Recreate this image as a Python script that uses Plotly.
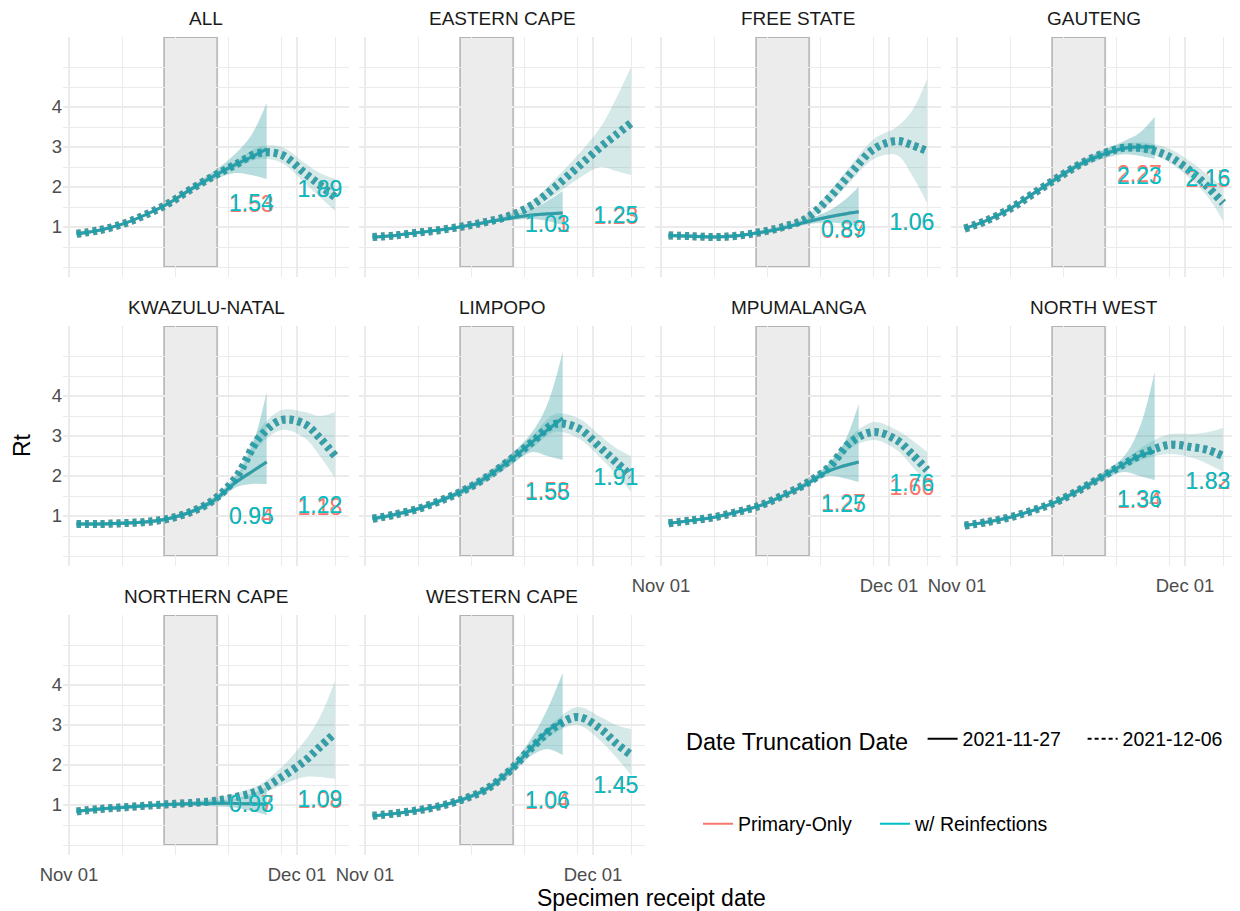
import plotly.graph_objects as go

# ---- data -------------------------------------------------------------
panels = ["ALL", "EASTERN CAPE", "FREE STATE", "GAUTENG",
          "KWAZULU-NATAL", "LIMPOPO", "MPUMALANGA", "NORTH WEST",
          "NORTHERN CAPE", "WESTERN CAPE"]

solid_dates = ["2021-11-02", "2021-11-05", "2021-11-08", "2021-11-11", "2021-11-14",
               "2021-11-17", "2021-11-20", "2021-11-23", "2021-11-25", "2021-11-27"]
dashed_dates = ["2021-11-02", "2021-11-05", "2021-11-08", "2021-11-11", "2021-11-14",
                "2021-11-17", "2021-11-20", "2021-11-23", "2021-11-26", "2021-11-29",
                "2021-12-02", "2021-12-04", "2021-12-06"]

# truncated at 2021-11-27 (solid): median / low / high of the sampled Rt paths
solid_med = [
    [0.83, 0.92, 1.07, 1.30, 1.58, 1.94, 2.27, 2.57, 2.75, 2.95],  # ALL
    [0.75, 0.79, 0.86, 0.93, 1.02, 1.12, 1.22, 1.30, 1.33, 1.35],  # EASTERN CAPE
    [0.79, 0.77, 0.75, 0.78, 0.86, 0.97, 1.12, 1.25, 1.32, 1.38],  # FREE STATE
    [0.96, 1.17, 1.46, 1.83, 2.20, 2.55, 2.80, 2.97, 3.00, 3.00],  # GAUTENG
    [0.80, 0.80, 0.82, 0.85, 0.93, 1.10, 1.38, 1.85, 2.10, 2.35],  # KWAZULU-NATAL
    [0.93, 1.04, 1.18, 1.39, 1.64, 1.97, 2.38, 2.85, 3.15, 3.45],  # LIMPOPO
    [0.82, 0.89, 0.97, 1.10, 1.26, 1.50, 1.78, 2.12, 2.25, 2.35],  # MPUMALANGA
    [0.76, 0.85, 0.97, 1.14, 1.35, 1.64, 1.97, 2.30, 2.50, 2.62],  # NORTH WEST
    [0.84, 0.90, 0.94, 0.98, 1.01, 1.03, 1.04, 1.04, 1.03, 1.02],  # NORTHERN CAPE
    [0.73, 0.79, 0.87, 0.98, 1.15, 1.40, 1.85, 2.45, 2.85, 3.10],  # WESTERN CAPE
]
solid_lo = [
    [0.80, 0.89, 1.04, 1.27, 1.54, 1.88, 2.18, 2.35, 2.30, 2.20],
    [0.72, 0.76, 0.83, 0.90, 0.99, 1.09, 1.17, 1.20, 1.15, 1.05],
    [0.75, 0.73, 0.71, 0.74, 0.82, 0.93, 1.06, 1.12, 1.08, 1.02],
    [0.93, 1.14, 1.42, 1.78, 2.14, 2.48, 2.70, 2.82, 2.78, 2.70],
    [0.76, 0.76, 0.78, 0.81, 0.89, 1.05, 1.30, 1.72, 1.80, 1.80],
    [0.88, 0.99, 1.13, 1.33, 1.57, 1.88, 2.25, 2.60, 2.50, 2.40],
    [0.79, 0.86, 0.94, 1.06, 1.22, 1.45, 1.72, 2.00, 1.95, 1.85],
    [0.73, 0.82, 0.94, 1.10, 1.30, 1.58, 1.88, 2.10, 2.00, 1.90],
    [0.80, 0.86, 0.90, 0.94, 0.97, 0.98, 0.97, 0.93, 0.85, 0.75],
    [0.70, 0.76, 0.84, 0.94, 1.10, 1.33, 1.74, 2.25, 2.40, 2.25],
]
solid_hi = [
    [0.86, 0.95, 1.10, 1.33, 1.62, 2.00, 2.38, 2.85, 3.30, 4.10],
    [0.78, 0.82, 0.89, 0.96, 1.05, 1.15, 1.28, 1.45, 1.65, 1.90],
    [0.83, 0.81, 0.79, 0.82, 0.90, 1.01, 1.18, 1.40, 1.65, 2.00],
    [0.99, 1.20, 1.50, 1.88, 2.26, 2.62, 2.90, 3.15, 3.35, 3.75],
    [0.84, 0.84, 0.86, 0.89, 0.97, 1.15, 1.46, 2.00, 2.70, 4.10],
    [0.98, 1.09, 1.23, 1.45, 1.71, 2.06, 2.50, 3.10, 3.80, 5.10],
    [0.85, 0.92, 1.00, 1.14, 1.30, 1.55, 1.84, 2.30, 2.80, 3.80],
    [0.79, 0.88, 1.00, 1.18, 1.40, 1.70, 2.06, 2.50, 3.20, 4.60],
    [0.88, 0.94, 0.98, 1.02, 1.05, 1.08, 1.11, 1.17, 1.28, 1.45],
    [0.76, 0.82, 0.90, 1.02, 1.20, 1.47, 1.96, 2.70, 3.40, 4.30],
]

# truncated at 2021-12-06 (dashed)
dashed_med = [
    [0.83, 0.92, 1.07, 1.30, 1.58, 1.94, 2.27, 2.57, 2.85, 2.80, 2.35, 2.05, 1.75],
    [0.75, 0.79, 0.86, 0.93, 1.02, 1.13, 1.28, 1.55, 2.00, 2.50, 3.00, 3.30, 3.60],
    [0.79, 0.77, 0.75, 0.78, 0.87, 1.00, 1.20, 1.70, 2.35, 2.95, 3.15, 3.05, 2.90],
    [0.96, 1.17, 1.46, 1.83, 2.20, 2.55, 2.82, 2.98, 2.95, 2.75, 2.35, 2.00, 1.60],
    [0.80, 0.80, 0.82, 0.85, 0.93, 1.10, 1.40, 1.97, 2.95, 3.40, 3.30, 2.95, 2.50],
    [0.93, 1.04, 1.18, 1.39, 1.64, 1.97, 2.39, 2.85, 3.30, 3.20, 2.70, 2.35, 2.00],
    [0.82, 0.89, 0.97, 1.10, 1.26, 1.51, 1.80, 2.20, 2.85, 3.10, 2.90, 2.55, 2.15],
    [0.76, 0.85, 0.97, 1.14, 1.35, 1.64, 1.97, 2.30, 2.60, 2.78, 2.72, 2.65, 2.50],
    [0.84, 0.90, 0.94, 0.98, 1.02, 1.05, 1.10, 1.20, 1.36, 1.70, 2.10, 2.45, 2.80],
    [0.73, 0.79, 0.87, 0.98, 1.15, 1.40, 1.85, 2.45, 2.95, 3.20, 2.90, 2.55, 2.25],
]
dashed_lo = [
    [0.80, 0.89, 1.04, 1.27, 1.54, 1.90, 2.22, 2.50, 2.70, 2.60, 2.10, 1.75, 1.40],
    [0.72, 0.76, 0.83, 0.90, 0.99, 1.09, 1.22, 1.45, 1.80, 2.20, 2.50, 2.40, 2.30],
    [0.75, 0.73, 0.71, 0.74, 0.83, 0.95, 1.13, 1.55, 2.15, 2.70, 2.80, 2.30, 1.60],
    [0.93, 1.14, 1.42, 1.78, 2.14, 2.48, 2.75, 2.90, 2.85, 2.60, 2.15, 1.75, 1.15],
    [0.76, 0.76, 0.78, 0.81, 0.89, 1.05, 1.34, 1.88, 2.75, 3.15, 2.95, 2.50, 1.95],
    [0.88, 0.99, 1.13, 1.33, 1.57, 1.88, 2.28, 2.70, 3.10, 2.95, 2.45, 2.05, 1.60],
    [0.79, 0.86, 0.94, 1.06, 1.22, 1.46, 1.74, 2.12, 2.70, 2.90, 2.65, 2.25, 1.80],
    [0.73, 0.82, 0.94, 1.10, 1.30, 1.58, 1.90, 2.20, 2.45, 2.55, 2.45, 2.30, 2.10],
    [0.80, 0.86, 0.90, 0.94, 0.98, 1.01, 1.05, 1.12, 1.25, 1.50, 1.70, 1.70, 1.65],
    [0.70, 0.76, 0.84, 0.94, 1.10, 1.35, 1.78, 2.35, 2.80, 3.00, 2.60, 2.20, 1.75],
]
dashed_hi = [
    [0.86, 0.95, 1.10, 1.33, 1.62, 1.98, 2.32, 2.65, 3.00, 3.00, 2.60, 2.35, 2.20],
    [0.78, 0.82, 0.89, 0.96, 1.05, 1.17, 1.34, 1.65, 2.20, 2.80, 3.50, 4.20, 5.00],
    [0.83, 0.81, 0.79, 0.82, 0.91, 1.05, 1.27, 1.85, 2.55, 3.20, 3.50, 3.90, 4.70],
    [0.99, 1.20, 1.50, 1.88, 2.26, 2.62, 2.90, 3.08, 3.10, 2.95, 2.60, 2.30, 2.00],
    [0.84, 0.84, 0.86, 0.89, 0.97, 1.15, 1.46, 2.06, 3.15, 3.65, 3.60, 3.50, 3.60],
    [0.98, 1.09, 1.23, 1.45, 1.71, 2.06, 2.50, 3.00, 3.55, 3.45, 3.00, 2.70, 2.50],
    [0.85, 0.92, 1.00, 1.14, 1.30, 1.56, 1.86, 2.28, 3.00, 3.35, 3.15, 2.90, 2.60],
    [0.79, 0.88, 1.00, 1.18, 1.40, 1.70, 2.04, 2.40, 2.80, 3.05, 3.05, 3.10, 3.20],
    [0.88, 0.94, 0.98, 1.02, 1.06, 1.09, 1.16, 1.30, 1.50, 1.95, 2.60, 3.20, 4.10],
    [0.76, 0.82, 0.90, 1.02, 1.20, 1.45, 1.92, 2.55, 3.10, 3.45, 3.20, 3.00, 2.90],
]

# value labels (first: truncation 2021-11-27, second: 2021-12-06)
label_dates = ["2021-11-25", "2021-12-04"]
label_primary = [[1.53, 1.89], [1.01, 1.23], [0.87, 1.06], [2.27, 2.15], [0.94, 1.18],
                 [1.58, 1.91], [1.27, 1.66], [1.34, 1.82], [0.97, 1.08], [1.04, 1.45]]
label_reinf = [[1.54, 1.89], [1.03, 1.25], [0.89, 1.06], [2.23, 2.16], [0.95, 1.22],
               [1.55, 1.91], [1.25, 1.76], [1.36, 1.83], [0.98, 1.09], [1.06, 1.45]]

shade_start = "2021-11-13 12:00"
shade_end = "2021-11-20 12:00"

# ---- styling ----------------------------------------------------------
# the page body has an 8px margin, so the figure is drawn 8px smaller and
# reference pixel positions are shifted by that offset
OFF = 8
W, H = 1240 - OFF, 911 - OFF
FONT = "Liberation Sans, Arial, sans-serif"
RED = "#F8766D"
TEAL = "#00BFC4"
GRID = "#ebebeb"


def px_x(p):
    return (p - OFF) / W


def px_y(p):
    return 1 - (p - OFF) / H


col_px = [(63, 349), (359, 645), (655, 941), (951, 1237)]
row_px = [(37, 277), (326, 566), (615, 855)]
x_range = ["2021-10-31 05:00", "2021-12-07 20:00"]
y_range = [-0.25, 5.75]
week_lines = ["2021-11-01", "2021-11-08", "2021-11-15", "2021-11-22",
              "2021-11-29", "2021-12-06"]

series = [
    # name, band rgba solid, band rgba dashed, median colour, label values
    ("Primary-Only", "rgba(248,118,109,0.16)", "rgba(248,118,109,0.10)",
     "rgba(230,120,112,0.8)", label_primary),
    ("w/ Reinfections", "rgba(0,191,196,0.28)", "rgba(0,191,196,0.16)",
     "rgba(25,160,172,0.85)", label_reinf),
]

fig = go.Figure()
layout = {}
shapes = []
annotations = []

for i, name in enumerate(panels):
    r, c = divmod(i, 4)
    sfx = "" if i == 0 else str(i + 1)
    xa, ya = "x" + sfx, "y" + sfx

    for sname, band_s, band_d, med_col, labels in series:
        common = dict(xaxis=xa, yaxis=ya, mode="lines", hoverinfo="skip", showlegend=False)
        # dashed band
        fig.add_trace(go.Scatter(x=dashed_dates, y=dashed_lo[i],
                                 line=dict(width=0, shape="spline"), **common))
        fig.add_trace(go.Scatter(x=dashed_dates, y=dashed_hi[i], fill="tonexty",
                                 fillcolor=band_d, line=dict(width=0, shape="spline"), **common))
        # solid band
        fig.add_trace(go.Scatter(x=solid_dates, y=solid_lo[i],
                                 line=dict(width=0, shape="spline"), **common))
        fig.add_trace(go.Scatter(x=solid_dates, y=solid_hi[i], fill="tonexty",
                                 fillcolor=band_s, line=dict(width=0, shape="spline"), **common))
        # medians
        fig.add_trace(go.Scatter(x=dashed_dates, y=dashed_med[i],
                                 line=dict(color=med_col, width=8, dash="4px,4px", shape="spline"),
                                 **common))
        fig.add_trace(go.Scatter(x=solid_dates, y=solid_med[i],
                                 line=dict(color=med_col, width=3, shape="spline"), **common))

    for sname, band_s, band_d, med_col, labels in series:
        fig.add_trace(go.Scatter(x=label_dates, y=labels[i], xaxis=xa, yaxis=ya,
                                 mode="text", text=["%.2f" % v for v in labels[i]],
                                 textposition="middle center",
                                 textfont=dict(family=FONT, size=23,
                                               color=RED if sname == "Primary-Only" else TEAL),
                                 hoverinfo="skip", showlegend=False))

    x0, x1 = col_px[c]
    y0, y1 = row_px[r]
    bottom = (r == 2) or (r == 1 and c >= 2)
    layout["xaxis" + sfx] = dict(
        domain=[px_x(x0), px_x(x1)], anchor=ya, type="date", range=x_range,
        tickvals=["2021-11-01", "2021-12-01"], ticktext=["Nov 01", "Dec 01"],
        showticklabels=bottom, ticks="outside", ticklen=3, tickcolor="rgba(0,0,0,0)",
        tickfont=dict(family=FONT, size=18.5, color="#4d4d4d"),
        showgrid=True, gridcolor=GRID, gridwidth=1.8,
        minor=dict(tickvals=week_lines, showgrid=True, gridcolor=GRID, gridwidth=0.9),
        zeroline=False, showline=False, fixedrange=True, automargin=False,
    )
    layout["yaxis" + sfx] = dict(
        domain=[px_y(y1), px_y(y0)], anchor=xa, range=y_range,
        tickvals=[1, 2, 3, 4], showticklabels=(c == 0), ticks="",
        tickfont=dict(family=FONT, size=18.5, color="#4d4d4d"),
        showgrid=True, gridcolor=GRID, gridwidth=1.8,
        minor=dict(tickvals=[0, 0.5, 1.5, 2.5, 3.5, 4.5, 5], showgrid=True,
                   gridcolor=GRID, gridwidth=0.9),
        zeroline=False, showline=False, fixedrange=True, automargin=False,
    )
    shapes.append(dict(type="rect", xref=xa, yref=ya, x0=shade_start, x1=shade_end,
                       y0=0, y1=y_range[1], fillcolor="rgba(0,0,0,0.075)",
                       line=dict(color="rgba(0,0,0,0.24)", width=1.8), layer="below"))
    annotations.append(dict(text=name, x=px_x((x0 + x1) / 2), y=px_y(y0 - 19),
                            xref="paper", yref="paper", showarrow=False,
                            xanchor="center", yanchor="middle",
                            font=dict(family=FONT, size=19, color="#1a1a1a")))

# legend keys
fig.add_trace(go.Scatter(x=[None], y=[None], mode="lines", name="2021-11-27", legendrank=1,
                         line=dict(color="black", width=2), legend="legend"))
fig.add_trace(go.Scatter(x=[None], y=[None], mode="lines", name="2021-12-06", legendrank=2,
                         line=dict(color="black", width=2, dash="4px,3px"), legend="legend"))
fig.add_trace(go.Scatter(x=[None], y=[None], mode="lines", name="Primary-Only", legendrank=1,
                         line=dict(color=RED, width=2), legend="legend2"))
fig.add_trace(go.Scatter(x=[None], y=[None], mode="lines", name="w/ Reinfections", legendrank=2,
                         line=dict(color=TEAL, width=2), legend="legend2"))

annotations.append(dict(text="Specimen receipt date", x=px_x(651), y=px_y(898),
                        xref="paper", yref="paper", showarrow=False,
                        xanchor="center", yanchor="middle",
                        font=dict(family=FONT, size=23, color="black")))
annotations.append(dict(text="Rt", x=px_x(22), y=px_y(445), textangle=-90,
                        xref="paper", yref="paper", showarrow=False,
                        xanchor="center", yanchor="middle",
                        font=dict(family=FONT, size=23, color="black")))

fig.update_layout(
    width=W, height=H,
    margin=dict(l=0, r=0, t=0, b=0, autoexpand=False),
    paper_bgcolor="white", plot_bgcolor="white",
    font=dict(family=FONT),
    shapes=shapes, annotations=annotations,
    legend=dict(orientation="h", x=px_x(684), y=px_y(740), xanchor="left", yanchor="middle",
                traceorder="normal", entrywidth=115,
                title=dict(text="Date Truncation Date ",
                           font=dict(family=FONT, size=23.5, color="black"), side="left"),
                font=dict(family=FONT, size=19.5, color="black"), bgcolor="rgba(0,0,0,0)"),
    legend2=dict(orientation="h", x=px_x(698), y=px_y(824), xanchor="left", yanchor="middle",
                 traceorder="normal", entrywidth=132,
                 font=dict(family=FONT, size=19.5, color="black"), bgcolor="rgba(0,0,0,0)"),
    **layout,
)

fig.write_html("out.html")
